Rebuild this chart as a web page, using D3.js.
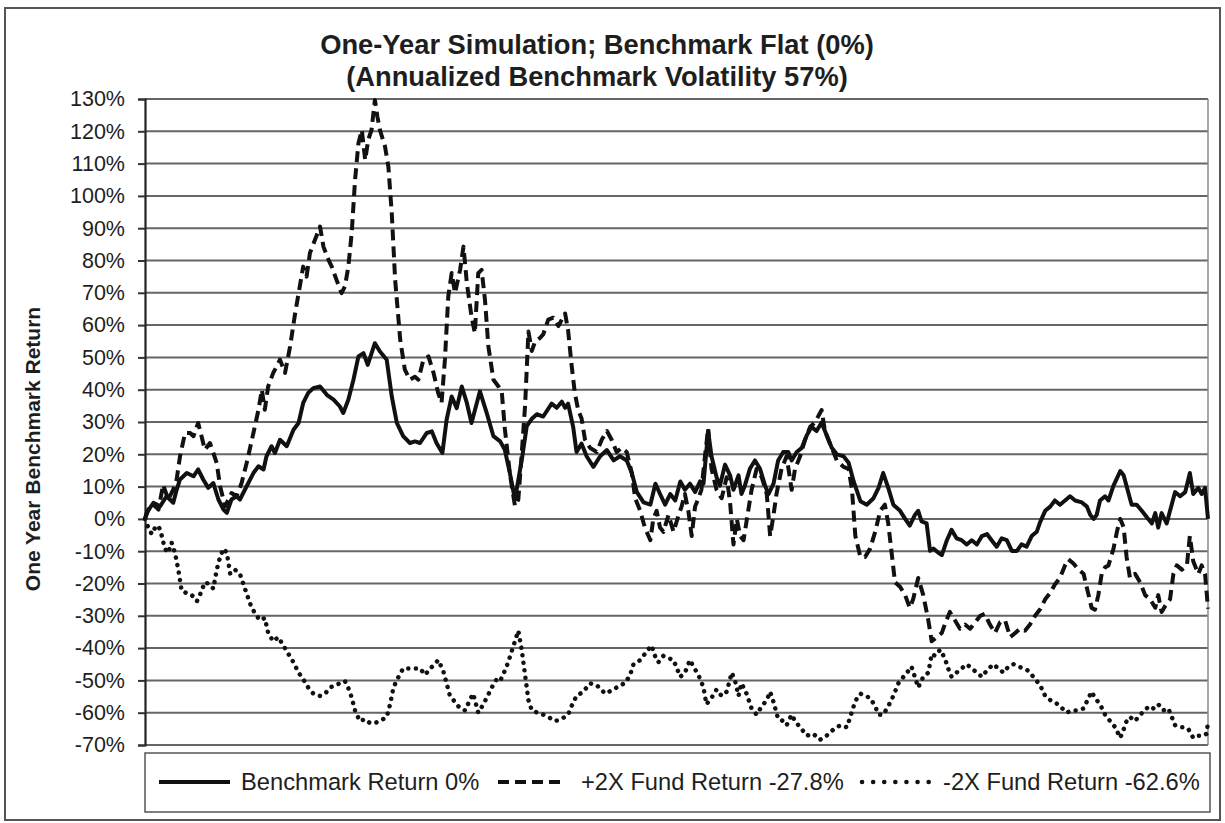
<!DOCTYPE html>
<html>
<head>
<meta charset="utf-8">
<script src="https://cdn.jsdelivr.net/npm/d3@7"></script>
<style>
  body { margin: 0; background: #fff; }
  svg { display: block; font-family: "Liberation Sans", Arial, sans-serif; }
</style>
</head>
<body>
<div id="chart"></div>
<script>
// title + axis text
var titleLines = ["One-Year Simulation; Benchmark Flat (0%)", "(Annualized Benchmark Volatility 57%)"];
var yTitle = "One Year Benchmark Return";
var yTicks = d3.range(-70, 131, 10);

// legend labels, one per series
var seriesNames = ["Benchmark Return 0%", "+2X Fund Return -27.8%", "-2X Fund Return -62.6%"];

// [trading day, return %]
var benchmark = [[0,0],[0.4,1.9],[2,5],[3.6,3.9],[5.1,7],[6.7,5],[7.5,9],[8.3,12.2],[9.9,14.2],[11.5,13.2],[12.6,15.3],[13.8,12.2],[15,9.6],[16.2,11.1],[17.4,6],[18.6,2.9],[19.4,1.9],[20.5,6],[21.7,7],[22.5,6],[24.1,10.1],[25.7,14.2],[26.9,16.3],[28.1,15.3],[28.8,19.4],[30,22.5],[30.8,20.4],[32,24.5],[33.6,22.5],[35.2,27.6],[36.4,29.7],[37.5,35.9],[38.7,39],[39.9,40.5],[41.5,41],[43.1,38.4],[44.7,36.9],[46.2,34.8],[47,32.8],[48.2,36.9],[49.4,43],[50.6,50.3],[51.8,51.3],[52.8,47.7],[54.5,54.4],[55.7,51.8],[57.3,49.3],[58.5,37.9],[59.7,29.7],[61.2,25.6],[62.8,23.5],[64,24],[65.2,23.5],[66.8,26.6],[68,27.1],[69.1,23.5],[70.5,20.4],[71.5,30.7],[72.7,37.9],[73.9,34.3],[75.1,41],[76.3,35.9],[77.4,29.7],[79.4,39.5],[81,32.8],[82.6,25.6],[84.2,24],[85.3,21.4],[86.5,14.2],[87.7,6],[89.3,18.1],[90.5,28.7],[91.7,31],[92.9,32.4],[94.4,31.7],[96.4,35.7],[97.6,34.4],[98.8,36.3],[99.6,34.4],[100.3,35.7],[101.5,28.5],[102.3,20.7],[103.5,23.3],[104.7,19.4],[106.3,16.1],[107.9,19.4],[109.5,21.3],[111.1,18.1],[112.6,19.4],[114.2,18.1],[115.4,14.2],[116.6,8.3],[118.2,5.1],[119.8,4.4],[121,10.9],[122.1,7.7],[123.3,4.4],[124.5,7.7],[125.7,5.7],[126.9,11.6],[128,9],[129.2,10.9],[130.4,8.3],[131.6,11.6],[132.4,10.9],[133.5,27.2],[134.3,19.4],[135.5,12.9],[136.3,10.3],[137.5,16.8],[138.7,13.5],[139.5,9],[140.7,13.5],[141.4,7.7],[142.2,10.3],[143.4,15.5],[144.6,18.1],[145.8,15.5],[147,10.3],[147.8,7.7],[149,10.9],[150.1,18.1],[151.3,20.7],[152.5,20.7],[153.3,18.1],[154.5,20.7],[155.7,22],[156.9,25.9],[158,28.5],[159.2,27.2],[160.4,29.8],[161.6,25.9],[162.8,22],[164,20],[165.6,19.4],[166.8,17.4],[168,11.6],[169.6,5.5],[171.1,4.4],[172.7,6.4],[173.9,9.6],[175,14.2],[176.2,9.6],[177.4,4.4],[179,2.5],[180.2,0],[181.3,-2.1],[182.5,1.2],[183.3,2.5],[184.1,-0.8],[185.3,-1.4],[186.1,-9.9],[186.9,-9.2],[188.1,-10.5],[188.9,-11.2],[190.1,-6.6],[191.2,-3.4],[192.4,-6],[193.6,-6.6],[194.8,-7.9],[196,-6.6],[197.2,-7.9],[198.4,-5.3],[199.6,-4.7],[200.7,-6.6],[201.9,-8.6],[203.1,-6],[204.3,-6.6],[205.5,-9.9],[206.7,-9.9],[207.8,-7.9],[209,-8.6],[210.2,-5.3],[211.4,-4],[212.2,-1],[213.4,2.5],[214.6,3.8],[215.7,5.7],[216.9,4.4],[218.1,5.7],[219.3,7],[220.5,5.7],[222.1,5.1],[223.3,3.8],[224.1,1.2],[224.9,0],[225.6,1.2],[226.4,5.7],[227.6,7],[228.4,5.7],[229.6,10.3],[231.2,14.8],[232,13.5],[233.2,7.7],[233.9,4.4],[235.1,4.4],[236.3,2.5],[237.5,0.5],[238.7,-1.4],[239.5,1.8],[240.2,-2.7],[241,1.8],[242.2,-1.4],[243,2.5],[244.2,8.3],[245.4,7],[246.6,8.3],[247.7,14.2],[248.5,7.7],[249.7,9.6],[250.5,7.7],[251.3,9.6],[252,0]];

var plus2x = [[0,0],[0.8,2.9],[2,4.4],[3.2,2.9],[4.3,10.6],[5.5,6],[6.7,9.1],[7.5,12.2],[8.3,19.4],[9.5,26.6],[10.7,26.6],[11.5,25.6],[12.6,29.7],[13.4,25.6],[14.2,21.4],[15.4,23.5],[16.2,20.4],[17,17.3],[17.8,10.1],[19,3.9],[20.5,8],[21.7,7],[22.9,11.1],[24.1,17.3],[25.7,26.6],[26.9,33.8],[27.7,40],[28.4,33.8],[29.2,41],[30.4,45.2],[31.2,47.2],[32,49.3],[33.2,45.2],[34.4,53.4],[35.6,63.7],[36.7,72],[37.5,78.1],[38.3,75],[39.1,82.3],[40.3,86.4],[41.5,90.5],[42.3,84.3],[43.5,80.2],[44.3,78],[45.4,74],[46.6,69.9],[47.4,72],[48.2,78],[49,88.5],[49.8,105],[50.6,116.3],[51.4,120.4],[52.2,111.1],[52.9,117.3],[53.7,120.4],[54.5,129.7],[55.1,124.5],[55.7,120.4],[56.9,115.3],[57.7,109],[58.5,94.6],[59.3,74],[60.5,55.5],[61.6,46.2],[62.8,43.1],[64,44],[64.8,43.1],[66,49.3],[67.2,50.3],[68.4,45.2],[69.5,39],[70.3,35.9],[71.1,49.3],[71.9,68.9],[72.7,76.1],[73.5,69.9],[74.7,77.1],[75.5,84.3],[76.3,73],[77.4,62.7],[78.2,57.5],[79,76.1],[79.8,77.1],[80.6,67.8],[81.4,53.4],[82.6,43.1],[83.8,41],[84.6,39],[85.3,28],[86.5,14],[87.7,4],[88.5,6],[89.3,20],[90.1,35],[90.9,58],[91.7,52],[92.5,55],[93.6,56],[94.4,57.1],[95.6,61.7],[96.8,62.3],[98,59.7],[98.8,61.7],[99.6,63.6],[100.3,58.4],[101.1,48],[101.9,38.9],[102.7,33.7],[103.5,31.1],[104.3,24.6],[105.5,22],[107.1,20.7],[108.3,24.6],[109.5,27.2],[110.6,24.6],[111.8,20.7],[113,22],[114.2,20.7],[115.4,14.2],[116.2,6.4],[117.4,2.5],[118.5,-2.7],[119.8,-6.6],[120.5,0],[121.3,2.5],[122.1,-2.7],[122.9,-4],[124.1,1.2],[125.3,-4],[126.5,1.2],[127.2,3.8],[128,7.7],[128.8,2.5],[129.6,-5.3],[130.4,3.8],[131.2,6.4],[131.9,9],[132.8,20],[133.5,28],[134.3,15.5],[135.5,9],[136.7,6.4],[137.9,12.9],[138.7,5.1],[139.5,-7.9],[140.3,0],[141.1,-5.3],[141.9,-6.6],[143,2.5],[143.8,9],[145,15.5],[146.2,12.9],[147.4,7.7],[148.2,-5.3],[149,1.2],[149.7,7.7],[150.9,15.5],[152.1,19.4],[153.3,9],[154.1,15.5],[155.3,19.4],[156.5,24.6],[157.7,28.5],[158.8,29.8],[160.4,33.7],[161.2,27.2],[162.4,23.3],[164,18.1],[165.6,16.1],[166.8,15.5],[167.6,9],[168.4,-5.3],[169.6,-11.8],[170.7,-11.8],[171.9,-9.2],[173.1,-4],[174.3,2.5],[175.4,4.4],[176.2,-1.4],[177,-10.5],[177.8,-19.6],[179,-21],[180.2,-23.6],[181.3,-27.5],[182.1,-24.9],[183.3,-18.3],[184.5,-23.6],[185.7,-31.4],[186.5,-37.9],[187.7,-36.6],[188.9,-35.3],[189.6,-32.7],[190.8,-28.8],[192,-31.4],[193.2,-34],[194.4,-32.7],[195.6,-34],[196.8,-32],[198,-30],[199.1,-29.4],[200.3,-32.7],[201.5,-35.3],[202.7,-32],[203.9,-31.4],[205.1,-36.6],[206.3,-35.3],[207.4,-34],[208.6,-34.6],[209.8,-32.7],[211,-30],[212.2,-28],[213.4,-24.9],[214.6,-22.9],[215.7,-20.3],[216.9,-18.3],[218.1,-14.4],[218.9,-12.5],[220.1,-13.8],[221.3,-15.7],[222.5,-17],[223.7,-23.6],[224.4,-27.5],[225.2,-28.1],[226,-23.6],[226.8,-17],[227.6,-15],[228.4,-14.4],[229.6,-9.2],[230.4,-4],[231.2,0],[232,-2.6],[232.7,-11.8],[233.5,-18.3],[234.7,-17],[235.9,-19.6],[237.1,-23.6],[238.3,-24.9],[239.5,-27.5],[240.2,-23.6],[241,-28.8],[242.2,-26.2],[243,-24.9],[243.8,-17],[244.6,-14.4],[245.8,-15.7],[247,-14.4],[247.7,-5.3],[248.5,-13.1],[249.7,-17],[250.5,-14.4],[251.3,-17],[252,-27.8]];

var minus2x = [[0,0],[0.8,-2.7],[1.6,-4.7],[2.4,-2.7],[3.2,-2.1],[4,-5.3],[4.7,-9.2],[5.5,-10.5],[6.3,-7.3],[7.1,-10.5],[7.9,-15.7],[8.7,-22.3],[9.9,-23],[11.1,-23.6],[12.3,-25.5],[13,-23.6],[14.2,-19.6],[15.4,-20.3],[16.2,-21.6],[17,-15.7],[17.8,-11.8],[18.6,-9.2],[19.4,-10.5],[20.2,-17],[21.3,-15.7],[22.5,-17],[23.7,-21.6],[24.9,-26.2],[26.1,-29.4],[27.3,-31.4],[28.4,-30.7],[29.2,-35.3],[30.4,-37.9],[31.6,-36.6],[32.8,-39.2],[34,-41.8],[35.2,-44.4],[36.4,-47.6],[37.5,-49.6],[38.7,-52.2],[39.9,-54.1],[41.5,-54.8],[42.7,-54.1],[43.9,-52.2],[45,-51.5],[46.2,-50.9],[47.4,-50.2],[48.6,-53.5],[49.8,-59.3],[50.9,-62.6],[52.2,-62],[53.3,-63.2],[54.5,-63.2],[55.7,-62.6],[57.3,-61.3],[58.1,-57.4],[58.9,-52.2],[60.1,-48.9],[61.2,-46.3],[62.4,-46.3],[63.6,-46.3],[65.2,-46.3],[66.4,-48.3],[67.6,-46.3],[68.7,-45],[69.5,-43.7],[70.7,-47],[71.5,-50.9],[72.3,-54.8],[73.5,-56.7],[74.7,-58.7],[75.9,-59.3],[77,-56.1],[77.8,-54.1],[79,-60],[80.2,-57.4],[81,-55.4],[82.2,-52.2],[83.4,-49.6],[84.2,-50.2],[85.3,-47],[86.1,-44.4],[86.9,-41.1],[87.7,-37.9],[88.5,-34.6],[89.3,-40.5],[90.1,-48.3],[90.9,-56.1],[91.7,-59.3],[92.9,-59.9],[94.4,-60.6],[95.6,-61.3],[97.2,-62.6],[98.8,-61.9],[100.3,-60.6],[101.1,-58],[102.3,-54.8],[103.9,-53.5],[105.5,-50.9],[107.1,-51.5],[109.1,-54.1],[111.1,-52.8],[112.6,-51.5],[113.8,-50.9],[115,-48.3],[115.8,-45],[117.4,-43.7],[118.9,-41.1],[120.1,-39.2],[120.9,-42.4],[121.7,-44.4],[122.9,-42.4],[124.1,-43.1],[125.3,-43.7],[126.1,-46.3],[126.9,-48.9],[128,-47.6],[129.2,-43.7],[130,-45.7],[131.2,-48.3],[132.4,-52.2],[133.1,-57.4],[134.3,-55.4],[135.5,-52.8],[136.7,-54.8],[137.9,-53.5],[139.1,-47.6],[139.9,-50.2],[140.7,-54.8],[141.4,-50.9],[142.6,-54.1],[143.8,-58.7],[145,-60.6],[146.2,-58],[147.4,-56.1],[148.2,-53.5],[149,-56.7],[150.1,-61.9],[151.3,-62.6],[152.1,-63.9],[153.3,-60.6],[154.1,-62.6],[155.3,-64.5],[156.9,-67.1],[158.4,-66.5],[160,-68.4],[161.6,-67.1],[163.2,-65.2],[164.8,-63.9],[166.4,-64.5],[167.2,-61.3],[168,-58],[168.8,-55.4],[169.6,-54.1],[170.7,-54.8],[171.9,-55.4],[173.1,-58],[173.9,-60.6],[175,-60.6],[176.2,-58],[177.4,-54.8],[178.6,-50.9],[179.8,-48.9],[181,-47],[181.7,-45.7],[182.5,-48.9],[183.3,-52.2],[184.5,-48.9],[185.7,-47.6],[186.5,-41.8],[187.3,-42.4],[188.5,-40.5],[189.6,-43.1],[190.4,-46.3],[191.2,-48.9],[192.4,-47.6],[193.6,-46.3],[194.8,-45],[196,-46.3],[197.2,-47.6],[198.4,-48.9],[199.6,-46.9],[201.1,-45],[202.3,-46.3],[203.5,-47.6],[204.7,-45.7],[205.9,-45],[207.1,-45.7],[208.2,-46.3],[209.4,-47],[210.6,-48.9],[212.2,-51.5],[213.4,-54.8],[214.6,-56.1],[215.7,-56.7],[216.9,-58],[218.5,-60],[219.7,-59.3],[220.9,-59.3],[222.5,-58.7],[223.7,-55.4],[224.4,-53.5],[225.2,-55.4],[226.4,-57.4],[227.6,-60.6],[228.8,-62.6],[230,-64.5],[231.2,-67.8],[232,-65.2],[232.7,-62.6],[233.5,-61.3],[234.7,-62.6],[235.9,-60.6],[237.1,-59.3],[237.9,-58],[239.1,-58.7],[240.2,-57.4],[241.4,-59.3],[242.6,-58.7],[243.4,-61.3],[244.2,-63.9],[245.4,-64.5],[246.6,-64.5],[247.4,-65.2],[248.5,-67.8],[249.7,-67.1],[250.9,-67.1],[251.7,-66.5],[252,-62.6]];

var W = 1225, H = 823;
var plot = {left: 145, right: 1208, top: 99, bottom: 745};

var svg = d3.select("#chart").append("svg")
    .attr("width", W)
    .attr("height", H);

// outer chart frame
svg.append("rect")
    .attr("x", 5).attr("y", 8)
    .attr("width", 1215).attr("height", 812)
    .attr("fill", "#fff")
    .attr("stroke", "#555")
    .attr("stroke-width", 2);

var x = d3.scaleLinear().domain([0, 252]).range([plot.left, plot.right]);
var y = d3.scaleLinear().domain([-70, 130]).range([plot.bottom, plot.top]);

// gridlines
svg.append("g")
    .selectAll("line")
    .data(yTicks)
  .enter().append("line")
    .attr("x1", plot.left).attr("x2", plot.right)
    .attr("y1", function(d) { return y(d); })
    .attr("y2", function(d) { return y(d); })
    .attr("stroke", "#666")
    .attr("stroke-width", 2);

// right edge of plot area
svg.append("line")
    .attr("x1", plot.right).attr("x2", plot.right)
    .attr("y1", plot.top).attr("y2", plot.bottom)
    .attr("stroke", "#8a8a8a")
    .attr("stroke-width", 1.5);

// y axis
var yAxis = svg.append("g")
    .attr("transform", "translate(" + plot.left + ",0)")
    .call(d3.axisLeft(y).tickValues(yTicks).tickSize(7).tickPadding(13)
        .tickFormat(function(d) { return d + "%"; }));
yAxis.select(".domain").attr("stroke", "#222").attr("stroke-width", 2.2);
yAxis.selectAll(".tick line").attr("stroke", "#333").attr("stroke-width", 2);
yAxis.selectAll(".tick text")
    .attr("fill", "#1e1e1e")
    .attr("font-size", "21.5px")
    .attr("font-family", "\"Liberation Sans\", Arial, sans-serif");

// axis title
svg.append("text")
    .attr("transform", "translate(40," + 449 + ") rotate(-90)")
    .attr("text-anchor", "middle")
    .attr("font-size", "21px")
    .attr("font-weight", "bold")
    .attr("fill", "#1e1e1e")
    .text(yTitle);

// chart title
svg.append("g").selectAll("text")
    .data(titleLines)
  .enter().append("text")
    .attr("x", 597)
    .attr("y", function(d, i) { return 54 + i * 32; })
    .attr("text-anchor", "middle")
    .attr("font-size", "27.3px")
    .attr("font-weight", "bold")
    .attr("fill", "#1e1e1e")
    .text(function(d) { return d; });

// series
var line = d3.line()
    .x(function(d) { return x(d[0]); })
    .y(function(d) { return y(d[1]); });

var styles = [
  {data: benchmark, dash: null, cap: "butt", width: 4},
  {data: plus2x, dash: "11,6", cap: "butt", width: 4},
  {data: minus2x, dash: "0.1,7.5", cap: "round", width: 4.5}
];

svg.append("g").selectAll("path")
    .data(styles.slice().reverse())
  .enter().append("path")
    .attr("d", function(s) { return line(s.data); })
    .attr("fill", "none")
    .attr("stroke", "#111")
    .attr("stroke-width", function(s) { return s.width; })
    .attr("stroke-linejoin", "round")
    .attr("stroke-linecap", function(s) { return s.cap; })
    .attr("stroke-dasharray", function(s) { return s.dash; });

// legend
var lg = svg.append("g");
lg.append("rect")
    .attr("x", 145).attr("y", 753)
    .attr("width", 1065).attr("height", 59)
    .attr("fill", "#fff")
    .attr("stroke", "#555")
    .attr("stroke-width", 1.5);

var legendItems = [
  {x0: 159, x1: 230, tx: 241, dash: null, cap: "butt"},
  {x0: 498, x1: 566, tx: 581, dash: "11,6", cap: "butt"},
  {x0: 862, x1: 929, tx: 943, dash: "0.1,11", cap: "round"}
];
legendItems.forEach(function(it, i) {
  lg.append("line")
      .attr("x1", it.x0).attr("x2", it.x1)
      .attr("y1", 782).attr("y2", 782)
      .attr("stroke", "#111")
      .attr("stroke-width", i == 2 ? 4.5 : 4)
      .attr("stroke-linecap", it.cap)
      .attr("stroke-dasharray", it.dash);
  lg.append("text")
      .attr("x", it.tx).attr("y", 790)
      .attr("font-size", "23.7px")
      .attr("fill", "#1e1e1e")
      .text(seriesNames[i]);
});
</script>
</body>
</html>
